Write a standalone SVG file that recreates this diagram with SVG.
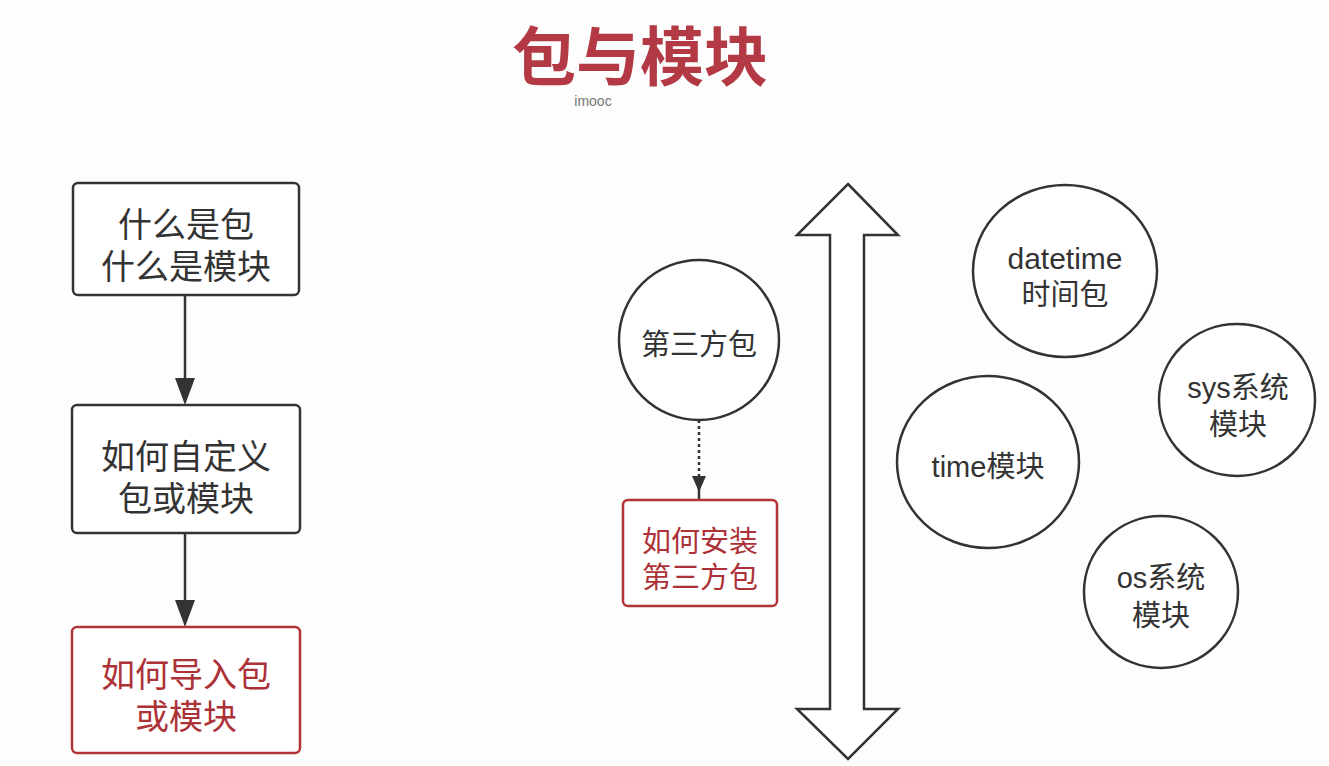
<svg xmlns="http://www.w3.org/2000/svg" width="1329" height="766" viewBox="0 0 1329 766">
<style>
text{font-family:"Liberation Sans","Noto Sans CJK SC",sans-serif;text-anchor:middle;dominant-baseline:central;fill:#333}
.box{fill:#fff;stroke:#333;stroke-width:2.5}
.red{fill:#fff;stroke:#b03438;stroke-width:2.5}
.rt{fill:#ad3238}
.circ{fill:#fff;stroke:#333;stroke-width:2.5}
.t33{font-size:34px}
.t29{font-size:29px}
.conn{stroke:#333;stroke-width:2.5;fill:none}
</style>
<rect width="1329" height="766" fill="#fdfdfd"/>
<g id="title">
<text x="640" y="58" style="font-size:64px;font-weight:bold;fill:#b33a44">包与模块</text>
<text x="593" y="101" style="font-size:14px;fill:#777">imooc</text>
</g>
<g id="connectors">
<line class="conn" x1="185" y1="295" x2="185" y2="378"/>
<path d="M175,378 L195,378 L185,405 Z" fill="#333"/>
<line class="conn" x1="185" y1="533" x2="185" y2="600"/>
<path d="M175,600 L195,600 L185,627 Z" fill="#333"/>
<line class="conn" x1="699" y1="420" x2="699" y2="480" stroke-dasharray="3 3"/>
<path d="M692,476 L706,476 L699,492 Z" fill="#333"/>
<line class="conn" x1="699" y1="488" x2="699" y2="500"/>
</g>
<g id="n1">
<rect class="box" x="73" y="183" width="226" height="112" rx="5"/>
<text class="t33" x="186" y="225">什么是包</text>
<text class="t33" x="186" y="267">什么是模块</text>
</g>
<g id="n2">
<rect class="box" x="72" y="405" width="228" height="128" rx="5"/>
<text class="t33" x="186" y="457">如何自定义</text>
<text class="t33" x="186" y="499">包或模块</text>
</g>
<g id="n3">
<rect class="red" x="72" y="627" width="228" height="126" rx="5"/>
<text class="t33 rt" x="186" y="675">如何导入包</text>
<text class="t33 rt" x="186" y="717">或模块</text>
</g>
<g id="n4">
<circle class="circ" cx="699" cy="340" r="80"/>
<text class="t29" x="699" y="345">第三方包</text>
</g>
<g id="n5">
<rect class="red" x="623" y="500" width="154" height="106" rx="5"/>
<text class="t29 rt" x="700" y="542">如何安装</text>
<text class="t29 rt" x="700" y="578">第三方包</text>
</g>
<g id="bigarrow">
<path d="M848,184 L898,235 L864,235 L864,709 L898,709 L848,759 L797,709 L830,709 L830,235 L797,235 Z" fill="#fff" stroke="#333" stroke-width="2.5" stroke-linejoin="miter"/>
</g>
<g id="n6">
<ellipse class="circ" cx="1065" cy="271" rx="92" ry="86"/>
<text class="t29" x="1065" y="258" style="font-size:30px">datetime</text>
<text class="t29" x="1065" y="295">时间包</text>
</g>
<g id="n7">
<ellipse class="circ" cx="1237" cy="400" rx="78" ry="76"/>
<text class="t29" x="1238" y="388">sys系统</text>
<text class="t29" x="1238" y="425">模块</text>
</g>
<g id="n8">
<ellipse class="circ" cx="988" cy="462" rx="91" ry="86"/>
<text class="t29" x="988" y="467">time模块</text>
</g>
<g id="n9">
<ellipse class="circ" cx="1161" cy="592" rx="77" ry="76"/>
<text class="t29" x="1161" y="578">os系统</text>
<text class="t29" x="1161" y="616">模块</text>
</g>
</svg>
